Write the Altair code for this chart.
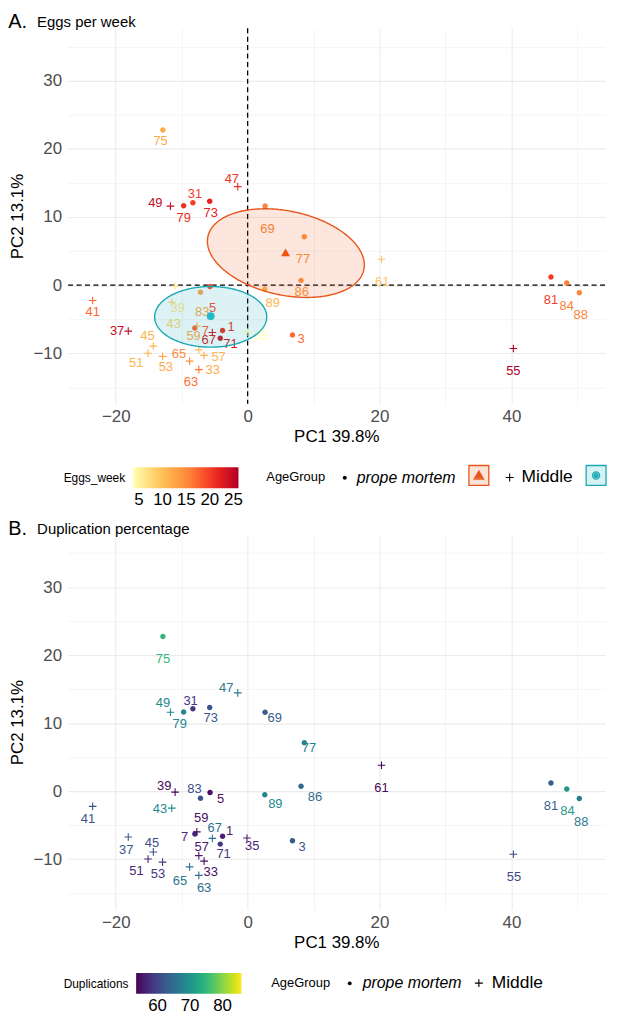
import altair as alt
import numpy as np
import pandas as pd

# ---------------- data ----------------
sample = [1, 3, 5, 7, 31, 33, 35, 37, 39, 41, 43, 45, 47, 49, 51, 53, 55, 57, 59,
          61, 63, 65, 67, 69, 71, 73, 75, 77, 79, 81, 83, 84, 86, 88, 89]
pc1 = [-3.8, 6.8, -5.7, -8.0, -8.3, -6.6, -0.1, -18.1, -11.0, -23.5, -11.5, -14.3,
       -1.5, -11.7, -15.1, -12.9, 40.3, -7.4, -7.7, 20.3, -7.4, -8.8, -5.35, 2.65,
       -4.15, -5.75, -12.85, 8.6, -9.7, 46.0, -7.15, 48.4, 8.1, 50.3, 2.6]
pc2 = [-6.65, -7.3, -0.2, -6.3, 12.1, -10.3, -6.9, -6.75, -0.15, -2.25, -2.5, -8.95,
       14.45, 11.6, -10.0, -10.45, -9.3, -9.5, -6.0, 3.8, -12.4, -11.15, -6.95, 11.6,
       -7.8, 12.3, 22.75, 7.1, 11.65, 1.2, -1.05, 0.3, 0.7, -1.1, -0.55]
age_group = ["prope mortem"] * 5 + ["Middle"] * 18 + ["prope mortem"] * 12
eggs_week = [21, 17, 19, 18, 20, 11.5, 3.8, 24.5, 6, 17.5, 8, 11, 21, 24.5, 11, 12, 26,
             10.5, 12, 9.5, 17, 15, 23, 15.5, 23.5, 22, 12, 14.5, 21, 20, 12, 16, 14, 15.5, 11]
duplications = [56, 62, 54.5, 57, 58.5, 54.5, 56.5, 62, 54, 61.5, 69, 61, 66.5, 68.5, 57,
                58.5, 60.5, 55.5, 54.5, 54, 64.5, 66, 65.5, 63, 58.5, 62, 75, 67.5, 68.5,
                63, 61.5, 70.5, 64.5, 67, 68.5]

# where the repelled sample labels sit (data units), panel A and panel B
labA_pc1 = [-2.5, 8.1, -5.3, -6.4, -8.0, -5.3, 2.1, -19.8, -10.6, -23.5, -11.2, -15.2,
            -2.4, -14.0, -16.9, -12.4, 40.3, -4.4, -8.2, 20.4, -8.6, -10.4, -5.9, 3.0,
            -2.6, -5.6, -13.2, 8.4, -9.7, 46.0, -6.9, 48.4, 8.2, 50.5, 3.8]
labA_pc2 = [-6.2, -7.9, -3.4, -6.7, 13.4, -12.5, -7.5, -6.7, -3.4, -4.0, -5.7, -7.4,
            15.6, 12.1, -11.5, -12.0, -12.6, -10.6, -7.5, 0.5, -14.2, -10.1, -8.1, 8.3,
            -8.6, 10.6, 21.2, 3.9, 9.8, -2.2, -4.0, -3.0, -1.0, -4.4, -2.6]
labB_pc1 = [-2.75, 8.25, -4.1, -9.55, -8.65, -5.6, 0.7, -18.4, -12.65, -24.2, -13.3, -14.5,
            -3.25, -12.85, -16.85, -13.6, 40.4, -6.95, -7.05, 20.3, -6.6, -10.25, -5.0, 4.1,
            -3.65, -5.6, -12.85, 9.3, -10.3, 46.0, -8.05, 48.5, 10.2, 50.6, 4.2]
labB_pc2 = [-5.9, -8.3, -1.2, -6.7, 13.2, -11.9, -8.1, -8.6, 0.8, -4.1, -2.6, -7.7,
            15.1, 13.0, -11.8, -12.2, -12.7, -8.2, -4.0, 0.4, -14.2, -13.2, -5.4, 10.8,
            -9.3, 10.8, 19.4, 6.3, 9.9, -2.2, 0.3, -3.0, -0.8, -4.5, -1.9]

# group centroids and confidence ellipses (centre x, centre y, semi-axis a, b, tilt deg)
centroid_group = ["prope mortem", "Middle"]
centroid_pc1 = [5.75, -5.6]
centroid_pc2 = [4.8, -4.55]
ellipse_cx = [5.8, -5.6]
ellipse_cy = [4.7, -4.65]
ellipse_a = [12.07, 8.5]
ellipse_b = [6.18, 4.45]
ellipse_tilt = [-11.3, 0.0]

eggs_limits = [3.76, 26.07]
dup_limits = [53.4, 85.8]
eggs_ticks = [5, 10, 15, 20, 25]
dup_ticks = [60, 70, 80]
x_grid = [-20, -10, 0, 10, 20, 30, 40, 50]
y_grid = [-15, -10, -5, 0, 5, 10, 15, 20, 25, 30, 35]

df = pd.DataFrame({"sample": [str(s) for s in sample], "pc1": pc1, "pc2": pc2,
                   "group": age_group, "eggs": eggs_week, "dup": duplications,
                   "ax": labA_pc1, "ay": labA_pc2, "bx": labB_pc1, "by": labB_pc2})
dots = df[df.group == "prope mortem"]
plus = df[df.group == "Middle"]


def ellipse_band(cx, cy, a, b, tilt, n=161):
    th = np.radians(tilt)
    c, s = np.cos(th), np.sin(th)
    A = c * c / a ** 2 + s * s / b ** 2
    B = 2 * s * c * (1 / a ** 2 - 1 / b ** 2)
    C = s * s / a ** 2 + c * c / b ** 2
    W = np.sqrt(4 * C / (4 * A * C - B * B))
    dx = -W * np.cos(np.linspace(0, np.pi, n))
    disc = np.clip(B * B * dx * dx - 4 * C * (A * dx * dx - 1), 0, None)
    lo = (-B * dx - np.sqrt(disc)) / (2 * C)
    hi = (-B * dx + np.sqrt(disc)) / (2 * C)
    return pd.DataFrame({"pc1": cx + dx, "lo": cy + lo, "hi": cy + hi})


ell = [ellipse_band(ellipse_cx[i], ellipse_cy[i], ellipse_a[i], ellipse_b[i], ellipse_tilt[i])
       for i in range(2)]
cent = pd.DataFrame({"group": centroid_group, "pc1": centroid_pc1, "pc2": centroid_pc2})
zero_df = pd.DataFrame({"pc1": [0.0], "pc2": [0.0]})

# ---------------- styling ----------------
FONT = "Liberation Sans"
ORANGE = "#e8561c"
CYAN = "#1ba9b4"
DOT = "M-0.5,0A0.5,0.5 0 1,0 0.5,0A0.5,0.5 0 1,0 -0.5,0Z"
PLUS = "M-1,0H1M0,-1V1"
BOX_TRI = ("M-2.5,-2.5H2.5V2.5H-2.5Z M0,-1.1L1.17,0.9H-1.17Z M0,-0.6L0.68,0.55H-0.68Z "
           "M0,-0.15L0.22,0.2H-0.22Z")
BOX_DOT = ("M-2.5,-2.5H2.5V2.5H-2.5Z M-0.9,0A0.9,0.9 0 1,0 0.9,0A0.9,0.9 0 1,0 -0.9,0Z "
           "M-0.5,0A0.5,0.5 0 1,0 0.5,0A0.5,0.5 0 1,0 -0.5,0Z "
           "M-0.15,0A0.15,0.15 0 1,0 0.15,0A0.15,0.15 0 1,0 -0.15,0Z")
YLORRD = ["#ffffb2", "#fed976", "#feb24c", "#fd8d3c", "#fc4e2a", "#e31a1c", "#b10026"]

W = 541
xscale = alt.Scale(domain=[-27.3, 54.2], nice=False, zero=False)
yscale = alt.Scale(domain=[-17.4, 37.7], nice=False, zero=False)
xaxis = alt.Axis(values=x_grid, title="PC1 39.8%",
                 labelExpr="datum.value % 20 == 0 ? datum.label : ''",
                 gridWidth={"condition": {"test": "datum.value % 20 == 0", "value": 1.1},
                            "value": 0.55},
                 labelPadding=5, titlePadding=4)
yaxis = alt.Axis(values=y_grid, title="PC2 13.1%",
                 labelExpr="datum.value % 10 == 0 ? datum.label : ''",
                 gridWidth={"condition": {"test": "datum.value % 10 == 0", "value": 1.1},
                            "value": 0.55},
                 labelPadding=6, titlePadding=7)


def X(field="pc1"):
    return alt.X(f"{field}:Q", scale=xscale, axis=xaxis, title="PC1 39.8%")


def Y(field="pc2"):
    return alt.Y(f"{field}:Q", scale=yscale, axis=yaxis, title="PC2 13.1%")


def gradient_legend(title, ticks, ly):
    return alt.Legend(title=title, type="gradient", orient="none", legendX=-4, legendY=ly,
                      direction="horizontal", titleOrient="left", titleAnchor="middle",
                      gradientLength=106, gradientThickness=21, values=ticks,
                      labelFontSize=17, labelColor="black", labelOverlap=False,
                      titleFontSize=12, titleFontWeight="normal", titleColor="black",
                      titlePadding=7, gradientStrokeWidth=0, labelOffset=4)


def shape_legend(with_boxes, ly):
    return alt.Legend(
        title="AgeGroup", orient="none", legendX=200 if with_boxes else 205, legendY=ly,
        direction="horizontal", titleOrient="left", titleFontSize=13,
        titleFontWeight="normal", titleColor="black",
        titlePadding=11,
        labelColor="black", labelOffset=4 if with_boxes else 5,
        columnPadding=10 if with_boxes else 9,
        symbolSize=64, symbolOpacity=1,
        labelExpr="indexof(datum.label, 'box') >= 0 ? '' : datum.label",
        symbolFillColor={"expr": "datum.value === 'prope mortem' ? 'black' : "
                                 "datum.value === 'pm_box' ? '#fde3d6' : "
                                 "datum.value === 'mid_box' ? '#d8f1f3' : 'transparent'"},
        symbolStrokeColor={"expr": "datum.value === 'pm_box' ? '%s' : "
                                   "datum.value === 'mid_box' ? '%s' : 'black'" % (ORANGE, CYAN)},
        symbolStrokeWidth={"expr": "datum.value === 'prope mortem' ? 0 : "
                                   "datum.value === 'Middle' ? 1.1 : 1.3"},
        labelFontStyle={"expr": "datum.value === 'prope mortem' ? 'italic' : 'normal'"},
        labelFontSize={"expr": "datum.value === 'Middle' ? 17.5 : 16"},
    )


def panel(field, cscale, sscale, ctitle, ticks, with_ell, title_text, subtitle_text,
          lx, ly, H, gy, sy):
    color = alt.Color(f"{field}:Q", scale=cscale, legend=gradient_legend(ctitle, ticks, gy),
                      title=ctitle)
    stroke = alt.Stroke(f"{field}:Q", scale=sscale, legend=None)
    if with_ell:
        sdomain = ["prope mortem", "pm_box", "Middle", "mid_box"]
        srange = [DOT, BOX_TRI, PLUS, BOX_DOT]
    else:
        sdomain = ["prope mortem", "Middle"]
        srange = [DOT, PLUS]
    shape = alt.Shape("group:N", scale=alt.Scale(domain=sdomain, range=srange),
                      legend=shape_legend(with_ell, sy), title="AgeGroup")

    layers = []
    if with_ell:
        layers.append(alt.Chart(zero_df).mark_rule(color="black", strokeDash=[5, 3.5],
                                                   strokeWidth=1.3).encode(x=X()))
        layers.append(alt.Chart(zero_df).mark_rule(color="black", strokeDash=[5, 3.5],
                                                   strokeWidth=1.3).encode(y=Y()))
    layers.append(alt.Chart(dots).mark_point(filled=True, size=121, opacity=1,
                                             strokeWidth=0).encode(
        x=X(), y=Y(), color=color, shape=shape))
    layers.append(alt.Chart(plus).mark_point(filled=True, size=59, strokeWidth=1.1,
                                             opacity=1).encode(
        x=X(), y=Y(), color=color, stroke=stroke, shape=shape))
    layers.append(alt.Chart(df).mark_text(fontSize=13, font=FONT, baseline="middle").encode(
        x=X(lx), y=Y(ly), text="sample:N", color=color))
    if with_ell:
        for i, col in enumerate([ORANGE, CYAN]):
            layers.append(alt.Chart(ell[i]).mark_area(
                fill=col, fillOpacity=0.15, stroke=col, strokeWidth=1.4).encode(
                x=X(), y=Y("hi"), y2="lo:Q"))
        layers.append(alt.Chart(cent.iloc[[0]]).mark_point(
            shape="triangle-up", filled=True, size=80, color="#f0520c", opacity=1).encode(
            x=X(), y=Y()))
        layers.append(alt.Chart(cent.iloc[[1]]).mark_point(
            shape="circle", filled=True, size=60, color="#22b8c5", opacity=1).encode(
            x=X(), y=Y()))
    pad = "\u200b" + "\u00a0" * 7
    return alt.layer(*layers).properties(
        width=W, height=H,
        title=alt.TitleParams(text=title_text, subtitle=pad + subtitle_text, anchor="start",
                              frame="bounds", fontSize=20, fontWeight="normal", color="black",
                              subtitleFontSize=15, subtitleColor="black",
                              subtitlePadding=-17, offset=-4, font=FONT,
                              subtitleFont=FONT),
    ).resolve_scale(stroke="shared")


eggs_scale = alt.Scale(domain=eggs_limits, range=YLORRD, interpolate="lab",
                       nice=False, zero=False)
# stroke copy of the same colour ramp for the "+" marks (no legend of its own)
eggs_stroke = alt.Scale(domain=[eggs_limits[0], eggs_limits[1] + 1e-6], range=YLORRD,
                        interpolate="lab", nice=False, zero=False)
dup_scale = alt.Scale(domain=dup_limits, scheme="viridis", nice=False, zero=False)
dup_stroke = alt.Scale(domain=[dup_limits[0], dup_limits[1] + 1e-6], scheme="viridis",
                       nice=False, zero=False)

A = panel("eggs", eggs_scale, eggs_stroke, "Eggs_week", eggs_ticks, True, "A.",
          "Eggs per week", "ax", "ay", 378, 442, 442)
B = panel("dup", dup_scale, dup_stroke, "Duplications", dup_ticks, False, "B.",
          "Duplication percentage", "bx", "by", 377, 441, 443)

chart = alt.vconcat(A, B, spacing=11).resolve_scale(
    color="independent", stroke="independent", shape="independent",
    x="independent", y="independent"
).resolve_legend(color="independent", shape="independent").properties(
    padding={"left": 0, "top": 0, "right": 0, "bottom": 0}
).configure(font=FONT).configure_view(stroke=None).configure_axis(
    domain=False, ticks=False, labelFontSize=17, labelColor="#4d4d4d",
    titleFontSize=17, titleFontWeight="normal", titleColor="black", gridColor="#ebebeb",
    labelFont=FONT, titleFont=FONT
).configure_legend(labelFont=FONT, titleFont=FONT)

chart.save("out.html", embed_options={"renderer": "svg", "actions": False})
